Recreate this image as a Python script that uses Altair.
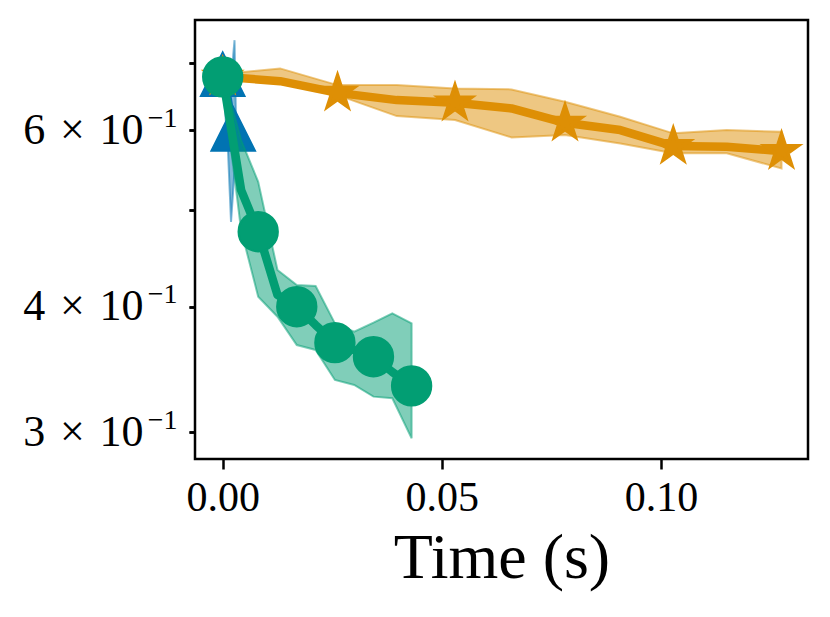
import altair as alt
import pandas as pd

# ---- data ----
blue_time = [0.0, 0.0012, 0.0019, 0.0024, 0.0027, 0.0030]
blue_mean = [0.6819, 0.6427, 0.6139, 0.6014, 0.5932, 0.5796]
blue_lo = [0.6760, 0.5730, 0.4859, 0.5229, 0.5474, 0.5412]
blue_hi = [0.6885, 0.7045, 0.6576, 0.7126, 0.7375, 0.6281]
blue_markers = [0, 3]

orange_time = [0.0, 0.0131, 0.0262, 0.0397, 0.0530, 0.0659, 0.0781, 0.0907, 0.1028, 0.1150, 0.1275]
orange_mean = [0.6780, 0.6713, 0.6535, 0.6427, 0.6388, 0.6306, 0.6101, 0.6000, 0.5784, 0.5774, 0.5717]
orange_lo = [0.6745, 0.6673, 0.6501, 0.6196, 0.6139, 0.5900, 0.5932, 0.5819, 0.5688, 0.5688, 0.5495]
orange_hi = [0.6822, 0.6912, 0.6652, 0.6652, 0.6602, 0.6587, 0.6402, 0.6186, 0.5955, 0.6000, 0.5977]
orange_markers = [0, 2, 4, 6, 8, 10]

green_time = [0.0, 0.0042, 0.0081, 0.0125, 0.0169, 0.0212, 0.0256, 0.0300, 0.0344, 0.0387, 0.0431]
green_mean = [0.6780, 0.5229, 0.4752, 0.4110, 0.4001, 0.3836, 0.3684, 0.3623, 0.3567, 0.3444, 0.3336]
green_lo = [0.6698, 0.4770, 0.4094, 0.3910, 0.3664, 0.3623, 0.3382, 0.3343, 0.3255, 0.3243, 0.2958]
green_hi = [0.6854, 0.5864, 0.5329, 0.4352, 0.4205, 0.4195, 0.3851, 0.3778, 0.3857, 0.3941, 0.3851]
green_markers = [0, 2, 4, 6, 8, 10]

x_ticks = [0.0, 0.05, 0.10]
y_ticks = [0.3, 0.4, 0.5, 0.6, 0.7]
y_labelled = [3, 4, 6]

BLUE, ORANGE, GREEN = "#0173B2", "#DE8F05", "#029E73"
FONT = "Liberation Serif"

TRIANGLE = "M0,-1L-1,1L1,1Z"
STAR = ("M0,-1L0.2245,-0.309L0.9511,-0.309L0.3633,0.118L0.5878,0.809L0,0.382"
        "L-0.5878,0.809L-0.3633,0.118L-0.9511,-0.309L-0.2245,-0.309Z")

xscale = alt.Scale(domain=[-0.00632, 0.13354], nice=False, zero=False)
yscale = alt.Scale(type="log", domain=[0.2821, 0.7724], nice=False)

x_axis = alt.Axis(values=x_ticks, format=".2f", title="Time (s)", titleFontSize=64,
                  titleFontWeight="normal", labelFontSize=42, tickSize=10, tickWidth=2.5,
                  labelPadding=8, titlePadding=8, labelFlush=False, labelOverlap=False)

lab_test = "indexof(" + str(y_labelled) + ", round(datum.value*10)) >= 0"
y_axis_main = alt.Axis(values=y_ticks, orient="left", title=None, tickSize=6, tickWidth=2.5,
                       labelFontSize=44, labelPadding=46, labelFlush=False, labelOverlap=False,
                       labelExpr=f"{lab_test} ? round(datum.value*10) + '\u2004×\u2004' + '10' : ''")
y_axis_sup = alt.Axis(values=y_ticks, orient="left", title=None, tickSize=6, tickWidth=2.5,
                      labelFontSize=28, labelPadding=12, labelOffset=-12, labelFlush=False,
                      labelOverlap=False,
                      labelExpr=f"{lab_test} ? '−1' : ''")


def frame(t, m, lo, hi):
    return pd.DataFrame({"t": t, "m": m, "lo": lo, "hi": hi})


def layers(df, idx, color, shape, size, edge, first=False):
    base = alt.Chart(df)
    ax1 = y_axis_main if first else None
    ax2 = y_axis_sup if first else None
    band = base.mark_area(color=color, fillOpacity=0.5, stroke=color, strokeOpacity=0.5,
                          strokeWidth=2).encode(
        x=alt.X("t:Q", scale=xscale, axis=x_axis),
        y=alt.Y("lo:Q", scale=yscale, axis=ax1),
        y2="hi:Q")
    line = base.mark_line(color=color, strokeWidth=8.5, strokeJoin="round").encode(
        x=alt.X("t:Q", scale=xscale, axis=x_axis),
        y=alt.Y("m:Q", scale=yscale, axis=ax2))
    pts = alt.Chart(df.iloc[idx]).mark_point(filled=True, opacity=1, fill=color, stroke=color,
                                              strokeWidth=edge, strokeJoin="miter",
                                              shape=shape, size=size).encode(
        x=alt.X("t:Q", scale=xscale, axis=x_axis),
        y=alt.Y("m:Q", scale=yscale, axis=None))
    return [band, line, pts]


blue_df = frame(blue_time, blue_mean, blue_lo, blue_hi)
orange_df = frame(orange_time, orange_mean, orange_lo, orange_hi)
green_df = frame(green_time, green_mean, green_lo, green_hi)

all_layers = (layers(blue_df, blue_markers, BLUE, TRIANGLE, 1900, 2, first=True)
              + layers(orange_df, orange_markers, ORANGE, STAR, 1225, 3.5)
              + layers(green_df, green_markers, GREEN, "circle", 1550, 2))

chart = alt.layer(*all_layers).resolve_axis(y="independent").properties(
    width=613, height=439,
    autosize=alt.AutoSizeParams(type="none"),
    padding={"left": 187, "top": 12, "right": 6, "bottom": 148},
).configure_view(stroke="black", strokeWidth=2.5).configure_axis(
    labelFont=FONT, titleFont=FONT, labelColor="black", titleColor="black",
    tickColor="black", domain=False, grid=False)

chart.save("out.html", embed_options={"renderer": "svg", "actions": False})
